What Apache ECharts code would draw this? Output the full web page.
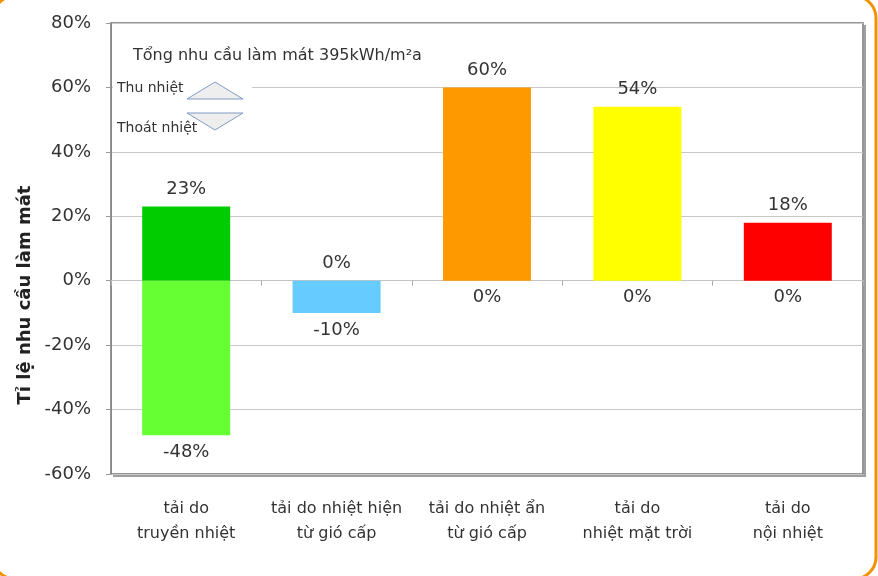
<!DOCTYPE html>
<html><head><meta charset="utf-8">
<script src="https://cdn.jsdelivr.net/npm/echarts@6/dist/echarts.min.js"></script>
<style>html,body{margin:0;padding:0;background:#fff}#c{width:878px;height:576px}</style>
</head><body><div id="c"></div>
<script>
const categories = ['tải do\ntruyền nhiệt', 'tải do nhiệt hiện\ntừ gió cấp', 'tải do nhiệt ẩn\ntừ gió cấp', 'tải do\nnhiệt mặt trời', 'tải do\nnội nhiệt'];
const heatGain = [23, 0, 60, 54, 18];      // Thu nhiệt
const heatLoss = [-48, -10, 0, 0, 0];      // Thoát nhiệt
const gainColors = ['#00CC00', '#66CCFF', '#FF9900', '#FFFF00', '#FF0000'];
const lossColors = ['#66FF33', '#66CCFF', '#FF9900', '#FFFF00', '#FF0000'];
const yMin = -60, yMax = 80, yStep = 20;
const titleText = 'Tổng nhu cầu làm mát 395kWh/m²a';
const yTitle = 'Tỉ lệ nhu cầu làm mát';
const legendNames = ['Thu nhiệt', 'Thoát nhiệt'];

const FONT = 'DejaVu Sans';
const chart = echarts.init(document.getElementById('c'), null, {renderer: 'canvas'});
const labelStyle = {show: true, fontFamily: FONT, fontSize: 18, color: '#333', distance: 8, formatter: p => p.value + '%'};

chart.setOption({
  backgroundColor: '#fff',
  animation: false,
  textStyle: {fontFamily: FONT},
  grid: {left: 111, top: 23, width: 752, height: 451, show: true, borderColor: '#747474', borderWidth: 1.5, containLabel: false},
  xAxis: [
    {type: 'category', data: categories, position: 'bottom', gridIndex: 0,
     axisLine: {show: false}, axisTick: {show: false}, splitLine: {show: false},
     axisLabel: {fontFamily: FONT, fontSize: 16, color: '#333', lineHeight: 25, margin: 22, interval: 0}},
    {type: 'category', data: categories, position: 'top', gridIndex: 0,
     axisLine: {show: true, onZero: true, onZeroAxisIndex: 0, lineStyle: {color: '#c4c4c4', width: 1}},
     axisTick: {show: true, inside: true, length: 5, lineStyle: {color: '#aaa'}},
     axisLabel: {show: false}, splitLine: {show: false}}
  ],
  yAxis: {
    type: 'value', min: yMin, max: yMax, interval: yStep,
    axisLine: {show: true, lineStyle: {color: '#888'}},
    axisTick: {show: true, length: 5, lineStyle: {color: '#999'}},
    axisLabel: {fontFamily: FONT, fontSize: 18, color: '#333', margin: 20, formatter: '{value}%'},
    splitLine: {show: true, lineStyle: {color: '#c8c8c8', width: 1}}
  },
  series: [
    {name: legendNames[0], type: 'bar', xAxisIndex: 0, barWidth: 88, barGap: '-100%',
     data: heatGain.map((v, i) => ({value: v, itemStyle: {color: gainColors[i]}})),
     label: Object.assign({position: 'top'}, labelStyle)},
    {name: legendNames[1], type: 'bar', xAxisIndex: 0, barWidth: 88, barGap: '-100%',
     data: heatLoss.map((v, i) => ({value: v, itemStyle: {color: lossColors[i]}})),
     label: Object.assign({position: 'bottom'}, labelStyle)}
  ],
  graphic: [
    {type: 'rect', z: 1, shape: {x: 113, y: 32, width: 139, height: 112}, style: {fill: '#fff'}},
    {type: 'polyline', z: 5, shape: {points: [[865, 25], [865, 476], [113, 476]]}, style: {stroke: '#a0a0a0', lineWidth: 2, fill: null}},
    {type: 'text', z: 5, x: 133, y: 56, style: {text: titleText, font: '16px "DejaVu Sans"', fill: '#333', verticalAlign: 'middle'}},
    {type: 'text', z: 5, x: 117, y: 88, style: {text: legendNames[0], font: '14px "DejaVu Sans"', fill: '#333', verticalAlign: 'middle'}},
    {type: 'text', z: 5, x: 117, y: 128, style: {text: legendNames[1], font: '14px "DejaVu Sans"', fill: '#333', verticalAlign: 'middle'}},
    {type: 'polygon', z: 6, shape: {points: [[187, 99], [215, 82], [243, 99]]}, style: {fill: '#EEEEEE', stroke: '#7F9CC4', lineWidth: 1}},
    {type: 'polygon', z: 6, shape: {points: [[187, 113], [243, 113], [215, 130]]}, style: {fill: '#EEEEEE', stroke: '#7F9CC4', lineWidth: 1}},
    {type: 'text', z: 5, x: 25, y: 295, rotation: Math.PI / 2, style: {text: yTitle, font: 'bold 18px "DejaVu Sans"', fill: '#222', align: 'center', verticalAlign: 'middle'}},
    {type: 'rect', z: 10, shape: {x: -7, y: -4, width: 883, height: 583, r: 22}, style: {fill: null, stroke: '#F39200', lineWidth: 3}}
  ]
});
</script></body></html>
